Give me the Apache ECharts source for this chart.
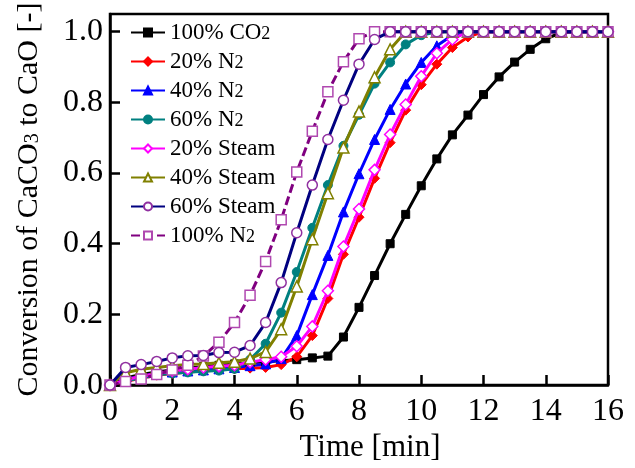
<!DOCTYPE html>
<html>
<head>
<meta charset="utf-8">
<script src="https://cdn.jsdelivr.net/npm/echarts@6/dist/echarts.min.js"></script>
<style>
  html, body { margin: 0; padding: 0; background: #fff; }
  #chart { width: 635px; height: 468px; }
</style>
</head>
<body>
<div id="chart"></div>
<script>
// time [min]
const times = [0, 0.5, 1, 1.5, 2, 2.5, 3, 3.5, 4, 4.5, 5, 5.5, 6, 6.5, 7, 7.5, 8,
  8.5, 9, 9.5, 10, 10.5, 11, 11.5, 12, 12.5, 13, 13.5, 14, 14.5, 15, 15.5, 16]

const co2_100 = [0, 0.02, 0.03, 0.037, 0.043, 0.048, 0.052, 0.056, 0.06, 0.063, 0.066, 0.069, 0.072,
  0.077, 0.082, 0.136, 0.22, 0.31, 0.40, 0.483, 0.564, 0.64, 0.708, 0.764, 0.822, 0.872, 0.914,
  0.95, 0.98, 0.997, 1, 1, 1]
const n2_20 = [0, 0.01, 0.02, 0.028, 0.033, 0.037, 0.04, 0.043, 0.046, 0.048, 0.05, 0.058, 0.08,
  0.14, 0.245, 0.37, 0.475, 0.585, 0.686, 0.778, 0.85, 0.908, 0.955, 0.985, 1, 1, 1, 1, 1, 1, 1, 1, 1]
const n2_40 = [0, 0.015, 0.025, 0.032, 0.037, 0.04, 0.043, 0.046, 0.05, 0.055, 0.06, 0.075, 0.14,
  0.256, 0.367, 0.49, 0.598, 0.695, 0.78, 0.852, 0.913, 0.96, 0.99, 1, 1, 1, 1, 1, 1, 1, 1, 1, 1]
const n2_60 = [0, 0.012, 0.02, 0.029, 0.033, 0.036, 0.039, 0.041, 0.046, 0.072, 0.117, 0.205, 0.32,
  0.445, 0.566, 0.677, 0.765, 0.853, 0.913, 0.964, 0.99, 1, 1, 1, 1, 1, 1, 1, 1, 1, 1, 1, 1]
const steam_20 = [0, 0.015, 0.025, 0.033, 0.04, 0.045, 0.05, 0.053, 0.056, 0.065, 0.072, 0.08, 0.11,
  0.166, 0.267, 0.392, 0.498, 0.609, 0.709, 0.794, 0.874, 0.939, 0.978, 1, 1, 1, 1, 1, 1, 1, 1, 1, 1]
const steam_40 = [0, 0.035, 0.045, 0.05, 0.055, 0.058, 0.06, 0.063, 0.066, 0.075, 0.094, 0.158, 0.279,
  0.413, 0.543, 0.672, 0.774, 0.871, 0.95, 1, 1, 1, 1, 1, 1, 1, 1, 1, 1, 1, 1, 1, 1]
const steam_60 = [0, 0.05, 0.058, 0.067, 0.077, 0.083, 0.084, 0.092, 0.093, 0.112, 0.177, 0.29, 0.431,
  0.566, 0.695, 0.806, 0.908, 0.978, 1, 1, 1, 1, 1, 1, 1, 1, 1, 1, 1, 1, 1, 1, 1]
const n2_100 = [0, 0.01, 0.017, 0.03, 0.043, 0.056, 0.082, 0.121, 0.177, 0.254, 0.35, 0.468, 0.603,
  0.718, 0.83, 0.915, 0.98, 1, 1, 1, 1, 1, 1, 1, 1, 1, 1, 1, 1, 1, 1, 1, 1]

const seriesNames = ['100% CO2', '20% N2', '40% N2', '60% N2', '20% Steam', '40% Steam', '60% Steam', '100% N2']

const FONT = 'Liberation Serif'

const pairs = (vals) => times.map((t, i) => [t, vals[i]])

// filled marker series
const filled = (name, vals, color, symbol, size) => ({
  name,
  type: 'line',
  data: pairs(vals),
  symbol,
  symbolSize: size,
  lineStyle: { color, width: 3 },
  itemStyle: { color, borderColor: color, borderWidth: 1 },
  z: 2
})

// hollow marker series
const hollow = (name, vals, color, border, symbol, size, z, dash) => ({
  name,
  type: 'line',
  data: pairs(vals),
  symbol,
  symbolSize: size,
  lineStyle: { color, width: 3, type: dash || 'solid' },
  itemStyle: { color: '#fff', borderColor: border, borderWidth: 1.5 },
  z
})

const chart = echarts.init(document.getElementById('chart'))

chart.setOption({
  animation: false,
  grid: {
    left: 110,
    right: 27,
    top: 14,
    bottom: 76,
    show: true,
    borderColor: '#000',
    borderWidth: 2.5
  },
  legend: {
    data: seriesNames,
    orient: 'vertical',
    left: 125,
    top: 16,
    itemWidth: 34,
    itemHeight: 10,
    itemGap: 6,
    textStyle: {
      fontFamily: FONT,
      fontSize: 23,
      color: '#000',
      rich: {
        s: { fontFamily: FONT, fontSize: 18, color: '#000', padding: [4, 0, 0, 0] }
      }
    },
    formatter: (name) => name.replace(/(CO|N)2$/, '$1{s|2}')
  },
  xAxis: {
    type: 'value',
    min: 0,
    max: 16,
    interval: 2,
    name: 'Time [min]',
    nameLocation: 'middle',
    nameGap: 44,
    nameTextStyle: { fontFamily: FONT, fontSize: 31, color: '#000', padding: [0, 0, 0, 22] },
    axisLine: { show: true, lineStyle: { color: '#000', width: 2.5 } },
    axisTick: { show: true, inside: true, length: 10, lineStyle: { color: '#000', width: 2.5 } },
    axisLabel: { fontFamily: FONT, fontSize: 32, color: '#000', margin: 10 },
    splitLine: { show: false }
  },
  yAxis: {
    type: 'value',
    min: 0,
    max: 1.05,
    interval: 0.2,
    name: 'Conversion of CaCO{s|3} to CaO [-]',
    nameLocation: 'middle',
    nameGap: 66,
    nameTextStyle: {
      fontFamily: FONT,
      fontSize: 30,
      color: '#000',
      rich: {
        s: { fontFamily: FONT, fontSize: 20, color: '#000', padding: [8, 0, 0, 0] }
      }
    },
    axisLine: { show: true, lineStyle: { color: '#000', width: 2.5 } },
    axisTick: { show: true, inside: true, length: 10, lineStyle: { color: '#000', width: 2.5 } },
    axisLabel: {
      fontFamily: FONT,
      fontSize: 32,
      color: '#000',
      margin: 7,
      showMaxLabel: false,
      formatter: (v) => v.toFixed(1)
    },
    splitLine: { show: false }
  },
  series: [
    filled('100% CO2', co2_100, '#000000', 'rect', 8),
    filled('20% N2', n2_20, '#ff0000', 'diamond', 10),
    filled('40% N2', n2_40, '#0000ff', 'triangle', 10),
    filled('60% N2', n2_60, '#008080', 'circle', 9),
    hollow('20% Steam', steam_20, '#ff00ff', '#ff00ff', 'diamond', 11, 3),
    hollow('40% Steam', steam_40, '#808000', '#808000', 'triangle', 11, 3),
    hollow('60% Steam', steam_60, '#000080', '#9030a0', 'circle', 10, 5),
    hollow('100% N2', n2_100, '#800080', '#b048b0', 'rect', 10, 4, [9, 4])
  ]
})
</script>
</body>
</html>
